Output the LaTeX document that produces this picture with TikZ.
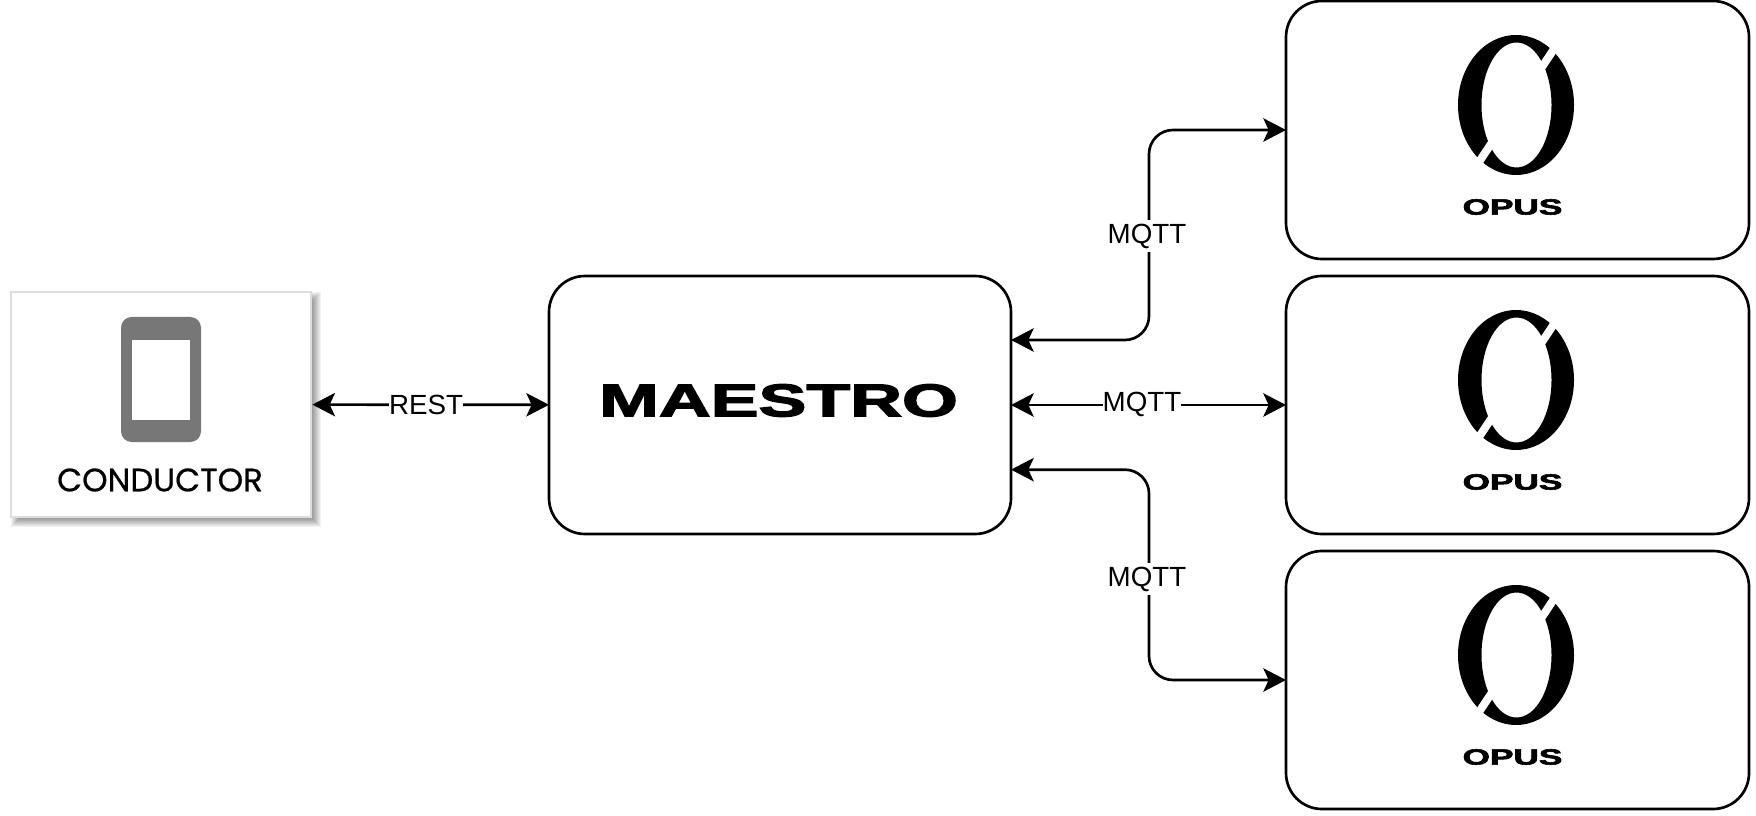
\documentclass[tikz,border=0pt]{standalone}
\usepackage{fontspec}
\usepackage{xcolor}
\usepackage{tikz}
\usetikzlibrary{arrows.meta}
\setmainfont{Liberation Sans}
\newfontfamily\logofont[FakeBold=2.5]{Liberation Sans Bold}
\newfontfamily\roundfont[FakeBold=0.6]{Poppins}
\definecolor{PhoneGrey}{HTML}{777777}
\definecolor{EdgeGrey}{HTML}{DDDDDD}

\tikzset{
	opuslogo/.pic={
		\fill [even odd rule] (0, 0) ellipse [x radius=58, y radius=70] (0.5, 0) ellipse [x radius=35, y radius=62.5];
		\draw [white, line width=6pt] (20, -29) -- (44, -65);
		\draw [white, line width=6pt] (-43, 66) -- (-19, 30);
	}
}

\begin{document}
\begin{tikzpicture}[x=0.75pt, y=-0.75pt, line width=2pt, >={Stealth[length=17pt, width=17.5pt, inset=4pt]},
		boxnode/.style={draw, fill=white, rounded corners=27pt, minimum width=347.25pt, minimum height=193.5pt, outer sep=0pt},
		linklabel/.style={fill=white, inner sep=0pt, minimum height=24pt, font=\fontsize{20.8pt}{24pt}\selectfont},
		opustext/.style={font=\logofont\fontsize{16.5pt}{20pt}\selectfont, xscale=1.6, inner sep=0pt}]
	\useasboundingbox (0, 0) rectangle (1756, 816);

	\foreach \r in {5, 4, ..., -3}
		\fill [black, opacity=0.05] (11 + 5 - \r, 292 + 5 - \r) rectangle (311 + 5 + \r, 517 + 5 + \r);

	\node [draw=EdgeGrey, fill=white, line width=2pt, minimum width=225pt, minimum height=168.75pt, outer sep=1pt] (conductor) at (161, 404.5) {};
	\node [fill=PhoneGrey, rounded corners=8pt, minimum width=60pt, minimum height=93.75pt] (phone) at (161, 379.5) {};
	\node [fill=white, minimum width=43.5pt, minimum height=60pt] (screen) at (161, 380) {};
	\node [font=\roundfont\fontsize{24.3pt}{28pt}\selectfont, inner sep=0pt] (conductorname) at (160, 480) {CONDUCTOR};

	\node [boxnode, minimum width=346.5pt] (maestro) at (780, 405) {};
	\node [font=\logofont\fontsize{34.5pt}{40pt}\selectfont, xscale=1.56, inner sep=0pt] (maestroname) at (778.5, 400.5) {MAESTRO};

	\foreach \n/\y in {a/130, b/405, c/680} {
		\node [boxnode] (opus\n) at (1517.5, \y) {};
		\pic at (1516, \y - 25) {opuslogo};
		\node [opustext] (opusname\n) at (1512.5, \y + 77) {OPUS};
	}

	\coordinate (bendtop) at (1149, 130);
	\coordinate (bendbottom) at (1149, 680);

	\draw [<->] (conductor) -- (maestro);
	\draw [<->, rounded corners=18pt] ([yshift=48.75pt]maestro.east) -| (bendtop) -- (opusa.west);
	\draw [<->] (maestro) -- (opusb);
	\draw [<->, rounded corners=18pt] ([yshift=-48.5pt]maestro.east) -| (bendbottom) -- (opusc.west);

	\node [linklabel] (rest) at (426, 405) {REST};
	\node [linklabel] (mqtta) at (1147, 236) {MQTT};
	\node [linklabel] (mqttb) at (1142, 404) {MQTT};
	\node [linklabel] (mqttc) at (1147, 579) {MQTT};
\end{tikzpicture}
\end{document}
